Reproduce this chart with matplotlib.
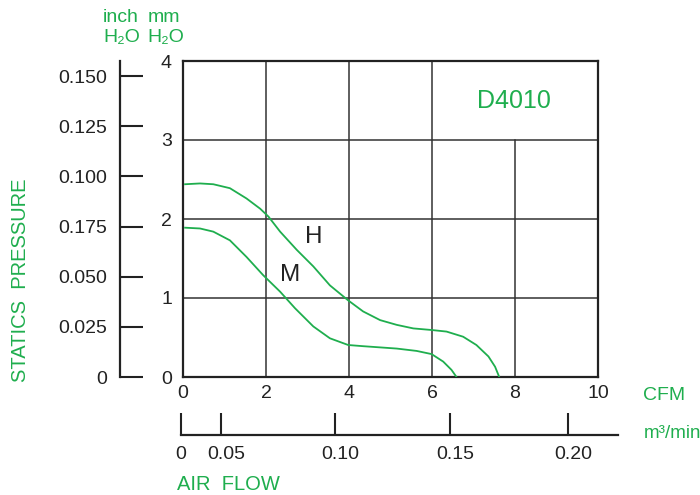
import matplotlib.pyplot as plt
from matplotlib.transforms import ScaledTranslation

plt.rcParams['font.family'] = ['Liberation Sans', 'DejaVu Sans']

GREEN = '#1fae4e'
DARK = '#222222'

# fan curve D4010 (x in CFM, y in mm H2O)
h_cfm = [0.05, 0.41, 0.73, 1.13, 1.53, 1.86, 2.06, 2.34, 2.74, 3.14, 3.54, 3.98,
         4.34, 4.75, 5.15, 5.55, 5.99, 6.35, 6.75, 7.07, 7.36, 7.52, 7.62]
h_mm = [2.44, 2.45, 2.44, 2.39, 2.26, 2.13, 2.03, 1.84, 1.61, 1.40, 1.16, 0.97,
        0.83, 0.72, 0.66, 0.615, 0.595, 0.575, 0.51, 0.405, 0.26, 0.13, 0.0]
m_cfm = [0.05, 0.41, 0.73, 1.13, 1.53, 1.93, 2.34, 2.70, 3.14, 3.54, 3.98,
         4.34, 5.15, 5.63, 5.99, 6.27, 6.47, 6.59]
m_mm = [1.89, 1.88, 1.84, 1.73, 1.52, 1.29, 1.08, 0.87, 0.64, 0.49, 0.405,
        0.39, 0.36, 0.33, 0.29, 0.195, 0.09, 0.0]

cfm_ticks = [0, 2, 4, 6, 8, 10]
mm_ticks = [0, 1, 2, 3, 4]
inch_ticks = [0, 0.025, 0.050, 0.075, 0.100, 0.125, 0.150]
inch_labels = ['0', '0.025', '0.050', '0.175', '0.100', '0.125', '0.150']
# m3/min ticks as they sit on the drawing (position given in CFM units)
m3_tick_pos = [-0.05, 0.92, 3.66, 6.43, 9.28]
m3_labels = ['0', '0.05', '0.10', '0.15', '0.20']

grid_x = [2, 4, 6, 8]
grid_x_top = [4, 4, 4, 3]
grid_y = [1, 2, 3]

W, H = 700, 495
fig = plt.figure(figsize=(7, 4.95), dpi=100)


def fx(px):
    return px / W


def fy(py):
    return 1 - py / H


x0, x1 = 183, 598
y0, y1 = 377, 61
ax = fig.add_axes([fx(x0), fy(y0), (x1 - x0) / W, (y0 - y1) / H])
ax.set_xlim(0, 10)
ax.set_ylim(0, 4)
for s in ax.spines.values():
    s.set_linewidth(1.6)
    s.set_color(DARK)
for gx, top in zip(grid_x, grid_x_top):
    ax.axvline(gx, ymax=top / 4, color='#333333', lw=1.1, zorder=1)
for gy in grid_y:
    ax.axhline(gy, color='#333333', lw=1.1, zorder=1)

ax.plot(h_cfm, h_mm, color=GREEN, lw=1.3, zorder=3, solid_joinstyle='round')
ax.plot(m_cfm, m_mm, color=GREEN, lw=1.3, zorder=3, solid_joinstyle='round')
ax.text(3.14, 1.77, 'H', fontsize=17.5, color=DARK, ha='center', va='center')
ax.text(2.58, 1.29, 'M', fontsize=17.5, color=DARK, ha='center', va='center')
ax.text(7.98, 3.49, 'D4010', fontsize=18, color=GREEN, ha='center', va='center')

ax.set_xticks(cfm_ticks)
ax.set_yticks(mm_ticks)
ax.tick_params(length=0, labelsize=14, colors=DARK)
ax.tick_params(axis='x', pad=6)
ax.tick_params(axis='y', pad=8)

# inch H2O axis on the left
ax_in = fig.add_axes([fx(120), fy(y0), 0.001, (y0 - y1) / H])
ax_in.set_ylim(0, 4)
ax_in.set_xticks([])
for k in ['top', 'right', 'bottom']:
    ax_in.spines[k].set_visible(False)
ax_in.spines['left'].set_linewidth(1.6)
ax_in.spines['left'].set_color(DARK)
ax_in.patch.set_visible(False)
ax_in.set_yticks([v * 25.4 for v in inch_ticks])
ax_in.set_yticklabels(inch_labels)
ax_in.tick_params(axis='y', direction='in', length=16.5, width=1.5, pad=9,
                  labelsize=14, colors=DARK)

# m3/min axis below
a0 = x0 + (-0.05) * 41.5
a1 = x0 + 10.48 * 41.5
ax_m3 = fig.add_axes([fx(a0), fy(435), (a1 - a0) / W, 0.001])
ax_m3.set_xlim(-0.05, 10.48)
ax_m3.set_yticks([])
for k in ['top', 'right', 'left']:
    ax_m3.spines[k].set_visible(False)
ax_m3.spines['bottom'].set_linewidth(1.6)
ax_m3.spines['bottom'].set_color(DARK)
ax_m3.patch.set_visible(False)
ax_m3.set_xticks(m3_tick_pos)
ax_m3.set_xticklabels(m3_labels)
ax_m3.tick_params(axis='x', direction='in', length=16, width=1.5, pad=8,
                  labelsize=14, colors=DARK)
for lab in ax_m3.get_xticklabels()[1:]:
    lab.set_transform(lab.get_transform() + ScaledTranslation(0.05, 0, fig.dpi_scale_trans))

# green captions
fig.text(fx(103), fy(17), 'inch', color=GREEN, fontsize=14, va='center')
fig.text(fx(103), fy(38), 'H₂O', color=GREEN, fontsize=14, va='center')
fig.text(fx(148), fy(17), 'mm', color=GREEN, fontsize=14, va='center')
fig.text(fx(147), fy(38), 'H₂O', color=GREEN, fontsize=14, va='center')
fig.text(fx(21), fy(280), 'STATICS  PRESSURE', color=GREEN, fontsize=14.5,
         rotation=90, ha='center', va='center')
fig.text(fx(643), fy(395), 'CFM', color=GREEN, fontsize=14, va='center')
fig.text(fx(644), fy(433), 'm³/min', color=GREEN, fontsize=13.5, va='center')
fig.text(fx(177), fy(485), 'AIR  FLOW', color=GREEN, fontsize=14.5, va='center')

fig.savefig('out.png', dpi=100)
